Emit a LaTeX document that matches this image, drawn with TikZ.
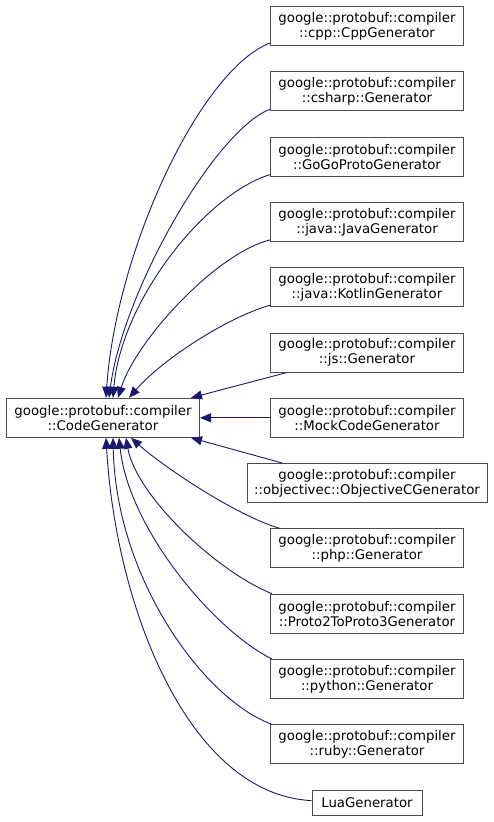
\documentclass[tikz,border=0pt]{standalone}
\usepackage{fontspec}
\setmainfont{DejaVu Sans}
\usepackage{tikz}
\usetikzlibrary{arrows.meta,positioning,calc}
\definecolor{midnight}{HTML}{191970}

\begin{document}
\begin{tikzpicture}[x=1pt, y=-1pt, node distance=25.3pt and 70pt,
  >={Triangle[length=11pt,width=9pt]},
  classbox/.style={draw=black!70, line width=1pt, fill=white, minimum width=193pt,
    minimum height=39pt, inner sep=2pt, align=center, font=\fontsize{13.3}{15}\selectfont},
  inherit/.style={->, draw=midnight, line width=0.9pt}]
\useasboundingbox (0,0) rectangle (493,822);

\node[classbox] (cpp) at (367,26) {google::protobuf::compiler\\::cpp::CppGenerator};
\node[classbox,below=of cpp] (csharp) {google::protobuf::compiler\\::csharp::Generator};
\node[classbox,below=of csharp] (gogo) {google::protobuf::compiler\\::GoGoProtoGenerator};
\node[classbox,below=of gogo] (java) {google::protobuf::compiler\\::java::JavaGenerator};
\node[classbox,below=of java] (kotlin) {google::protobuf::compiler\\::java::KotlinGenerator};
\node[classbox,below=of kotlin] (js) {google::protobuf::compiler\\::js::Generator};
\node[classbox,below=of js] (mock) {google::protobuf::compiler\\::MockCodeGenerator};
\node[classbox,below=of mock,minimum width=240pt] (objc) {google::protobuf::compiler\\::objectivec::ObjectiveCGenerator};
\node[classbox,below=of objc] (php) {google::protobuf::compiler\\::php::Generator};
\node[classbox,below=of php] (proto) {google::protobuf::compiler\\::Proto2ToProto3Generator};
\node[classbox,below=of proto] (python) {google::protobuf::compiler\\::python::Generator};
\node[classbox,below=of python] (ruby) {google::protobuf::compiler\\::ruby::Generator};
\node[classbox,below=of ruby,minimum width=110pt,minimum height=25pt] (lua) {LuaGenerator};
\node[classbox,left=of mock] (base) {google::protobuf::compiler\\::CodeGenerator};

\draw[inherit] ($(cpp.south west)+(0,-3)$) .. controls +(-70,27) and +(10,-147) .. ($(base.north west)+(100,0)$);
\draw[inherit] ($(csharp.south west)+(0,-2)$) .. controls +(-55,21) and +(14,-107) .. ($(base.north west)+(103,0)$);
\draw[inherit] ($(gogo.south west)+(0,-2)$) .. controls +(-65,20) and +(8,-97) .. ($(base.north west)+(107,0)$);
\draw[inherit] ($(java.south west)+(0,-2)$) .. controls +(-55,14) and +(18,-57) .. ($(base.north west)+(112,0)$);
\draw[inherit] ($(kotlin.south west)+(0,-2)$) .. controls +(-45,13) and +(32,-37) .. ($(base.north west)+(123,0)$);
\draw[inherit] ($(js.south west)+(17,0)$) -- ($(base.north west)+(185,0)$);
\draw[inherit] (mock.west) -- (base.east);
\draw[inherit] ($(objc.north west)+(36,0)$) -- ($(base.south west)+(185,0)$);
\draw[inherit] ($(php.north west)+(10,0)$) .. controls +(-45,-13) and +(30,27) .. ($(base.south west)+(125,0)$);
\draw[inherit] ($(proto.north west)+(2,0)$) .. controls +(-57,-23) and +(10,57) .. ($(base.south west)+(120,0)$);
\draw[inherit] ($(python.north west)+(2,0)$) .. controls +(-57,-28) and +(10,92) .. ($(base.south west)+(113,0)$);
\draw[inherit] ($(ruby.north west)+(2,0)$) .. controls +(-67,-24) and +(3,142) .. ($(base.south west)+(107,0)$);
\draw[inherit] ($(lua.west)+(0,-2)$) .. controls +(-122,-6) and +(10,172) .. ($(base.south west)+(100,0)$);
\end{tikzpicture}
\end{document}
